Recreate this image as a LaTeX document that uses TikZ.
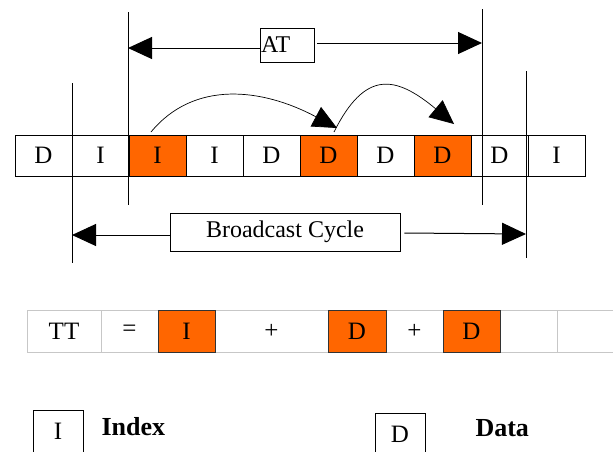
\documentclass[tikz,border=0pt]{standalone}
\usepackage{fontspec}
\setmainfont{Liberation Serif}
\usepackage{tikz}
\usetikzlibrary{arrows.meta, positioning, calc}
\definecolor{slotorange}{RGB}{255,102,0}

\begin{document}
\begin{tikzpicture}[
    x=1pt, y=-1pt,
    slot/.style={draw=black, line width=1pt, fill=white, minimum width=57pt, minimum height=41pt, inner sep=0pt, font=\fontsize{25}{28}\selectfont},
    hot/.style={slot, fill=slotorange},
    sumcell/.style={draw=black!22, line width=1pt, fill=white, minimum height=42pt, inner sep=0pt, font=\fontsize{25}{28}\selectfont},
    sumhot/.style={sumcell, draw=black!80, fill=slotorange},
    tag/.style={draw=black, line width=0.8pt, inner sep=0pt},
    marker/.style={line width=1pt},
    dim/.style={-{Triangle[length=24pt, width=22pt]}, line width=1pt},
    hop/.style={-{Triangle[length=24pt, width=22pt]}, line width=0.7pt},
    keytext/.style={anchor=west, font=\fontsize{26}{28}\selectfont\bfseries},
    font=\fontsize{24}{28}\selectfont
]
\useasboundingbox (0,0) rectangle (613,451);

% broadcast channel (top row)
\node[slot] (s1) at (43.5,155.5) {D};
\node[slot] (s2) at (100.5,155.5) {I};
\node[slot] (s4) at (214.5,155.5) {I};
\node[slot] (s5) at (271.5,155.5) {D};
\node[slot] (s7) at (385.5,155.5) {D};
\node[slot] (s9) at (499.5,155.5) {D};
\node[slot] (s10) at (556.5,155.5) {I};
\node[hot] (s3) at (157.5,155.5) {I};
\node[hot] (s6) at (328.5,155.5) {D};
\node[hot] (s8) at (442.5,155.5) {D};

% boundary markers
\coordinate (cycTop) at (72,83);
\coordinate (cycBot) at (72,263);
\coordinate (atTop) at (128,12);
\coordinate (atBot) at (128,205);
\coordinate (atEndTop) at (482,9);
\coordinate (atEndBot) at (482,205);
\coordinate (cycEndTop) at (526,71);
\coordinate (cycEndBot) at (526,258);
\draw[marker] (cycTop) -- (cycBot);
\draw[marker] (atTop) -- (atBot);
\draw[marker] (atEndTop) -- (atEndBot);
\draw[marker] (cycEndTop) -- (cycEndBot);

% access time
\node[tag, minimum width=54pt, minimum height=34pt, text width=52pt, align=left] (at) at (287,45) {AT};
\coordinate (atL) at (128,48);
\coordinate (atR) at (482,43);
\draw[dim] ([yshift=-3pt]at.west) -- (atL);
\draw[dim] ([xshift=3pt,yshift=2pt]at.east) -- (atR);

% broadcast cycle
\node[tag, minimum width=230pt, minimum height=38pt] (bc) at (285,232) {Broadcast Cycle};
\coordinate (bcL) at (72,235);
\coordinate (bcR) at (526,234);
\draw[dim] ([yshift=-3pt]bc.west) -- (bcL);
\draw[dim] ([xshift=4pt,yshift=-1pt]bc.east) -- (bcR);

% index jumps
\coordinate (hopA) at (151,132);
\coordinate (hopB) at (337,128);
\coordinate (hopC) at (334,132);
\coordinate (hopD) at (454,124);
\draw[hop] (hopA) .. controls (194,80) and (262,88) .. (hopB);
\draw[hop] (hopC) .. controls (365,70) and (395,75) .. (hopD);

% tuning time
\node[sumcell, minimum width=74pt] (tt) at (64,331) {TT};
\node[sumcell, minimum width=57pt] (eq) at (129.5,331) {=};
\node[sumcell, minimum width=113pt] (p1) at (271.5,331) {+};
\node[sumcell, minimum width=57pt] (p2) at (414.5,331) {+};
\node[sumcell, minimum width=57pt] (e1) at (528.5,331) {};
\node[sumcell, minimum width=57pt] (e2) at (585.5,331) {};
\node[sumhot, minimum width=57pt] (ti) at (186.5,331) {I};
\node[sumhot, minimum width=58pt] (td1) at (357,331) {D};
\node[sumhot, minimum width=57pt] (td2) at (471.5,331) {D};

% legend
\node[tag, line width=1pt, minimum width=50pt, minimum height=42pt, font=\fontsize{25}{28}\selectfont] (keyI) at (58,431) {I};
\node[keytext] (keyIdx) at (98,427) {Index};
\node[tag, line width=1pt, minimum width=50pt, minimum height=42pt, font=\fontsize{25}{28}\selectfont] (keyD) at (400,434) {D};
\node[keytext] (keyDat) at (472,428) {Data};

\end{tikzpicture}
\end{document}
